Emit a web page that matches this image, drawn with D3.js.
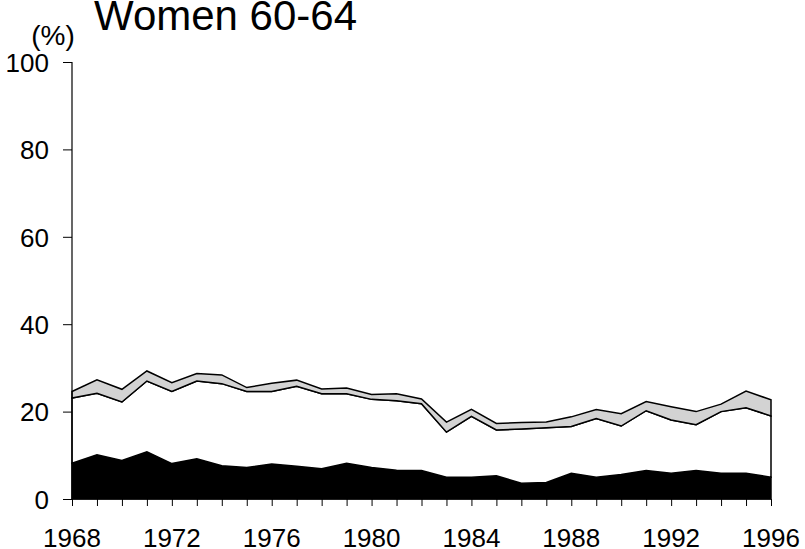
<!DOCTYPE html>
<html>
<head>
<meta charset="utf-8">
<script src="https://cdn.jsdelivr.net/npm/d3@7"></script>
<style>
  body { margin: 0; background: #fff; }
  text { font-family: Arial, "Liberation Sans", sans-serif; fill: #000; }
</style>
</head>
<body>
<div id="chart"></div>
<script>
// data (percent), one value per year
var years = [1968, 1969, 1970, 1971, 1972, 1973, 1974, 1975, 1976, 1977,
             1978, 1979, 1980, 1981, 1982, 1983, 1984, 1985, 1986, 1987,
             1988, 1989, 1990, 1991, 1992, 1993, 1994, 1995, 1996];
// bottom layer (black)
var layerBlack = [8.2, 10.1, 8.8, 10.8, 8.1, 9.2, 7.6, 7.2, 8.0, 7.5,
                  6.9, 8.2, 7.2, 6.6, 6.5, 5.0, 5.0, 5.3, 3.6, 3.8,
                  5.9, 5.0, 5.6, 6.5, 5.9, 6.5, 5.9, 5.9, 5.0];
// middle layer (white)
var layerWhite = [14.9, 14.1, 13.4, 16.2, 16.5, 17.8, 18.8, 17.4, 16.6, 18.3,
                  17.2, 15.9, 15.6, 15.9, 15.3, 10.3, 13.9, 10.5, 12.4, 12.5,
                  10.7, 13.4, 11.1, 13.7, 12.2, 10.5, 14.1, 15.0, 14.0];
// top layer (grey)
var layerGrey = [1.5, 3.1, 2.9, 2.3, 2.0, 1.7, 2.0, 0.9, 1.9, 1.4,
                 1.1, 1.3, 1.1, 1.6, 1.1, 2.3, 1.6, 1.5, 1.5, 1.3,
                 2.2, 2.1, 2.8, 2.1, 3.0, 3.0, 1.7, 3.8, 3.7];
var yTicks = [0, 20, 40, 60, 80, 100];
var xTicks = [1968, 1972, 1976, 1980, 1984, 1988, 1992, 1996];

var W = 805, H = 549;
var margin = { top: 62, right: 34, bottom: 50, left: 72 },
    width = W - margin.left - margin.right,
    height = H - margin.top - margin.bottom;

var svg = d3.select("#chart")
    .append("svg")
    .attr("width", W)
    .attr("height", H);

var g = svg.append("g")
    .attr("transform", "translate(" + margin.left + "," + margin.top + ")");

var x = d3.scaleLinear().domain([1968, 1996]).range([0, width]);
var y = d3.scaleLinear().domain([0, 100]).range([height, 0]);

// build table for the stack
var table = years.map(function(yr, i) {
    return { year: yr, black: layerBlack[i], white: layerWhite[i], grey: layerGrey[i] };
});
var series = d3.stack().keys(["black", "white", "grey"])(table);

var fills = { black: "#000", white: "#fff", grey: "#d3d3d3" };

var area = d3.area()
    .x(function(d) { return x(d.data.year); })
    .y0(function(d) { return y(d[0]); })
    .y1(function(d) { return y(d[1]); });

g.selectAll("path.layer")
    .data(series)
    .enter()
    .append("path")
    .attr("class", "layer")
    .attr("d", area)
    .attr("fill", function(d) { return fills[d.key]; })
    .attr("stroke", "#000")
    .attr("stroke-width", 1.5)
    .attr("stroke-linejoin", "miter");

// y axis
var yAxis = g.append("g")
    .call(d3.axisLeft(y).tickValues(yTicks).tickSize(9).tickPadding(14));
yAxis.select(".domain").attr("stroke", "#000").attr("stroke-width", 1.2)
    .attr("d", "M0," + y(100) + "V" + y(0));
yAxis.selectAll("text").style("font-size", "26px").attr("dy", "0.36em");

// x axis
var xAxis = g.append("g")
    .attr("transform", "translate(0," + height + ")")
    .call(d3.axisBottom(x).tickValues(d3.range(1968, 1997)).tickSize(7).tickFormat(""));
xAxis.select(".domain").attr("stroke", "#000").attr("stroke-width", 1.2)
    .attr("d", "M0,0H" + width);

g.append("g")
    .selectAll("text")
    .data(xTicks)
    .enter()
    .append("text")
    .attr("x", function(d) { return x(d); })
    .attr("y", height + 48)
    .attr("text-anchor", "middle")
    .style("font-size", "26px")
    .text(function(d) { return d; });

// unit label and title
svg.append("text")
    .attr("x", 53)
    .attr("y", 45)
    .attr("text-anchor", "middle")
    .style("font-size", "28px")
    .text("(%)");

svg.append("text")
    .attr("x", 94)
    .attr("y", 30)
    .style("font-size", "42px")
    .text("Women 60-64");
</script>
</body>
</html>
